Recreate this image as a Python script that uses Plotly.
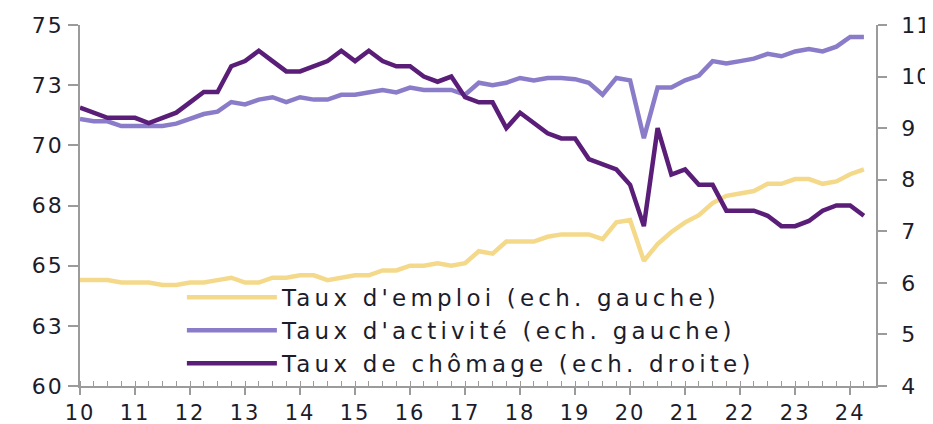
import plotly.graph_objects as go

years = [10 + 0.25 * i for i in range(58)]

emploi = [64.4, 64.4, 64.4, 64.3, 64.3, 64.3, 64.2, 64.2, 64.3, 64.3,
          64.4, 64.5, 64.3, 64.3, 64.5, 64.5, 64.6, 64.6, 64.4, 64.5,
          64.6, 64.6, 64.8, 64.8, 65.0, 65.0, 65.1, 65.0, 65.1, 65.6,
          65.5, 66.0, 66.0, 66.0, 66.2, 66.3, 66.3, 66.3, 66.1, 66.8,
          66.9, 65.2, 65.9, 66.4, 66.8, 67.1, 67.6, 67.9, 68.0, 68.1,
          68.4, 68.4, 68.6, 68.6, 68.4, 68.5, 68.8, 69.0]

activite = [71.1, 71.0, 71.0, 70.8, 70.8, 70.8, 70.8, 70.9, 71.1, 71.3,
            71.4, 71.8, 71.7, 71.9, 72.0, 71.8, 72.0, 71.9, 71.9, 72.1,
            72.1, 72.2, 72.3, 72.2, 72.4, 72.3, 72.3, 72.3, 72.1, 72.6,
            72.5, 72.6, 72.8, 72.7, 72.8, 72.8, 72.75, 72.6, 72.1, 72.8,
            72.7, 70.3, 72.4, 72.4, 72.7, 72.9, 73.5, 73.4, 73.5, 73.6,
            73.8, 73.7, 73.9, 74.0, 73.9, 74.1, 74.5, 74.5]

chomage = [9.4, 9.3, 9.2, 9.2, 9.2, 9.1, 9.2, 9.3, 9.5, 9.7,
           9.7, 10.2, 10.3, 10.5, 10.3, 10.1, 10.1, 10.2, 10.3, 10.5,
           10.3, 10.5, 10.3, 10.2, 10.2, 10.0, 9.9, 10.0, 9.6, 9.5,
           9.5, 9.0, 9.3, 9.1, 8.9, 8.8, 8.8, 8.4, 8.3, 8.2,
           7.9, 7.1, 9.0, 8.1, 8.2, 7.9, 7.9, 7.4, 7.4, 7.4,
           7.3, 7.1, 7.1, 7.2, 7.4, 7.5, 7.5, 7.3]

names = ["Taux d'emploi (ech. gauche)",
         "Taux d'activité (ech. gauche)",
         "Taux de chômage (ech. droite)"]

left_ticks = [60, 62.5, 65, 67.5, 70, 72.5, 75]
left_labels = ["60", "63", "65", "68", "70", "73", "75"]
right_ticks = [4, 5, 6, 7, 8, 9, 10, 11]
x_ticks = list(range(10, 25))
x_labels = [str(v) for v in x_ticks]

TXT = "#1c1c2b"
AX = "#9b9b9b"
FONT = "DejaVu Sans"


def sp(s, ls=2.0):
    return '<span style="letter-spacing:%.1fpx">%s</span>' % (ls, s)


fig = go.Figure()
fig.add_trace(go.Scatter(x=years, y=emploi, name=sp(names[0], 4.2), mode="lines",
                         line=dict(color="#F5D98A", width=4.5)))
fig.add_trace(go.Scatter(x=years, y=activite, name=sp(names[1], 4.2), mode="lines",
                         line=dict(color="#8B7CC9", width=4.5)))
fig.add_trace(go.Scatter(x=years, y=chomage, name=sp(names[2], 4.2), mode="lines",
                         line=dict(color="#5A1E78", width=4.5), yaxis="y2"))

fig.update_layout(
    width=933, height=424,
    margin=dict(l=72, r=65, t=17, b=46, autoexpand=False),
    paper_bgcolor="white", plot_bgcolor="white",
    font=dict(family=FONT, color=TXT, size=22),
    showlegend=True,
    legend=dict(x=0.128, y=0.305, xanchor="left", yanchor="top",
                bgcolor="rgba(0,0,0,0)", font=dict(size=23, color=TXT),
                itemwidth=90, tracegroupgap=0),
    xaxis=dict(range=[10, 24.47], showgrid=False, zeroline=False, automargin=False,
               showline=True, linecolor=AX, linewidth=1.5,
               tickvals=x_ticks, ticktext=[sp(t, 2) for t in x_labels],
               ticks="outside", ticklen=7, tickcolor=AX, tickwidth=1.5,
               tickfont=dict(size=21, color=TXT), ticklabelstandoff=0,
               minor=dict(dtick=0.25, tick0=10, ticks="inside", ticklen=5,
                          tickcolor=AX, tickwidth=1.2, showgrid=False)),
    yaxis=dict(range=[60, 75], showgrid=False, zeroline=False, automargin=False,
               showline=True, linecolor=AX, linewidth=1.5,
               tickvals=left_ticks, ticktext=[sp(t, 2) for t in left_labels],
               ticks="outside", ticklen=10, tickcolor=AX, tickwidth=1.5,
               tickfont=dict(size=22, color=TXT), ticklabelstandoff=0),
    yaxis2=dict(range=[4, 11], overlaying="y", side="right", showgrid=False,
                zeroline=False, showline=True, linecolor=AX, linewidth=1.5,
                automargin=False,
                tickvals=right_ticks, ticktext=[sp(str(t), 1) for t in right_ticks],
                ticks="outside", ticklen=9, tickcolor=AX, tickwidth=1.5,
                tickfont=dict(size=22, color=TXT), ticklabelstandoff=10),
)

fig.write_html("out.html")
